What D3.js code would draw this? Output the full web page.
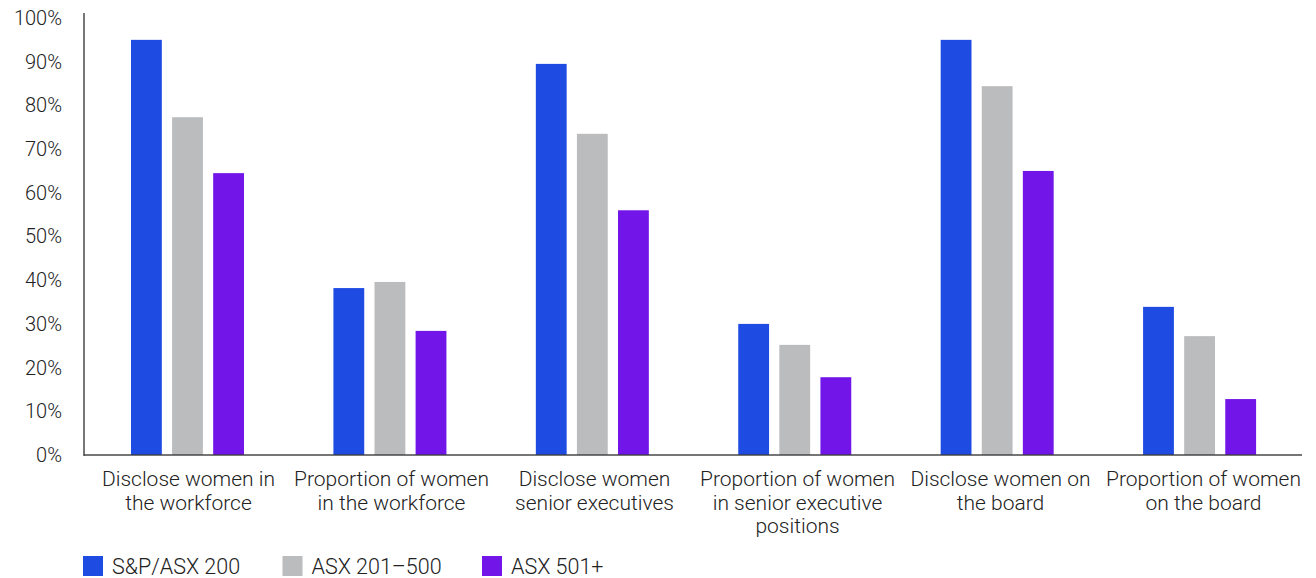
<!DOCTYPE html>
<html lang="en">
  <head>
    <meta charset="utf-8">
    <title>Gender disclosure by index</title>
    <script src="https://d3js.org/d3.v7.min.js"></script>
    <style>
      body { margin: 0; background: #fff; }
      text { font-family: Roboto, "Liberation Sans", sans-serif; font-weight: 300; fill: #222; }
    </style>
  </head>
  <body>
    <script>
      // categories and series
      var categories = [
        ["Disclose women in", "the workforce"],
        ["Proportion of women", "in the workforce"],
        ["Disclose women", "senior executives"],
        ["Proportion of women", "in senior executive", "positions"],
        ["Disclose women on", "the board"],
        ["Proportion of women", "on the board"]
      ];
      var seriesNames = ["S&P/ASX 200", "ASX 201\u2013500", "ASX 501+"];
      var asx200 = [95, 38.2, 89.5, 30, 95, 33.9];
      var asx201 = [77.3, 39.6, 73.5, 25.2, 84.4, 27.2];
      var asx501 = [64.5, 28.4, 56, 17.8, 65, 12.8];
      var yTicks = [0, 10, 20, 30, 40, 50, 60, 70, 80, 90, 100];
      var colors = ["#1e4be2", "#bbbcbe", "#7115e8"];

      var w = 1316, h = 578;
      var plotLeft = 84, plotRight = 1302, plotTop = 18, plotBottom = 455;

      var svg = d3.select("body").append("svg")
        .attr("width", w)
        .attr("height", h);

      var catIdx = d3.range(categories.length);
      var x0 = d3.scaleBand().domain(catIdx).range([plotLeft, 1298.5]);
      var xLabel = d3.scaleBand().domain(catIdx).range([plotLeft, plotRight]);
      var x1 = d3.scaleBand().domain([0, 1, 2]).range([47, 160]).paddingInner(0.25);
      var y = d3.scaleLinear().domain([0, 100]).range([plotBottom, plotTop]);

      var series = [asx200, asx201, asx501];

      // bars
      series.forEach(function(vals, s) {
        svg.append("g").selectAll("rect")
          .data(vals)
          .enter()
          .append("rect")
          .attr("x", function(d, i) { return x0(i) + x1(s); })
          .attr("y", function(d) { return y(d); })
          .attr("width", x1.bandwidth())
          .attr("height", function(d) { return plotBottom - y(d); })
          .attr("fill", colors[s]);
      });

      // y axis
      var yAxis = d3.axisLeft(y)
        .tickValues(yTicks)
        .tickSize(0)
        .tickPadding(22)
        .tickFormat(function(d) { return d + "%"; });

      var gy = svg.append("g")
        .attr("transform", "translate(" + plotLeft + ",0)")
        .call(yAxis);
      gy.select(".domain").remove();
      gy.selectAll("text")
        .style("font-size", "20px")
        .style("font-family", "Roboto, sans-serif")
        .style("font-weight", "300")
        .attr("fill", "#222");

      svg.append("line")
        .attr("x1", plotLeft).attr("x2", plotLeft)
        .attr("y1", 13).attr("y2", plotBottom + 1)
        .attr("stroke", "#777").attr("stroke-width", 2);

      svg.append("line")
        .attr("x1", plotLeft).attr("x2", plotRight)
        .attr("y1", plotBottom).attr("y2", plotBottom)
        .attr("stroke", "rgba(60,60,60,0.7)").attr("stroke-width", 2);

      // category labels
      var labels = svg.append("g").selectAll("text")
        .data(categories)
        .enter()
        .append("text")
        .attr("text-anchor", "middle")
        .attr("x", function(d, i) { return xLabel(i) + xLabel.bandwidth() / 2 + 3; })
        .attr("y", 486)
        .style("font-size", "21px");

      labels.selectAll("tspan")
        .data(function(d) { return d; })
        .enter()
        .append("tspan")
        .attr("x", function() { return d3.select(this.parentNode).attr("x"); })
        .attr("dy", function(d, i) { return i === 0 ? 0 : 23.5; })
        .text(function(d) { return d; });

      // legend
      var legend = svg.append("g").selectAll("g")
        .data(seriesNames)
        .enter()
        .append("g")
        .attr("transform", function(d, i) { return "translate(" + (83 + i * 199.5) + ",556)"; });

      legend.append("rect")
        .attr("width", 20).attr("height", 20)
        .attr("fill", function(d, i) { return colors[i]; });

      legend.append("text")
        .attr("x", 29).attr("y", 17.5)
        .style("font-size", "21.5px")
        .text(function(d) { return d; });
    </script>
  </body>
</html>
